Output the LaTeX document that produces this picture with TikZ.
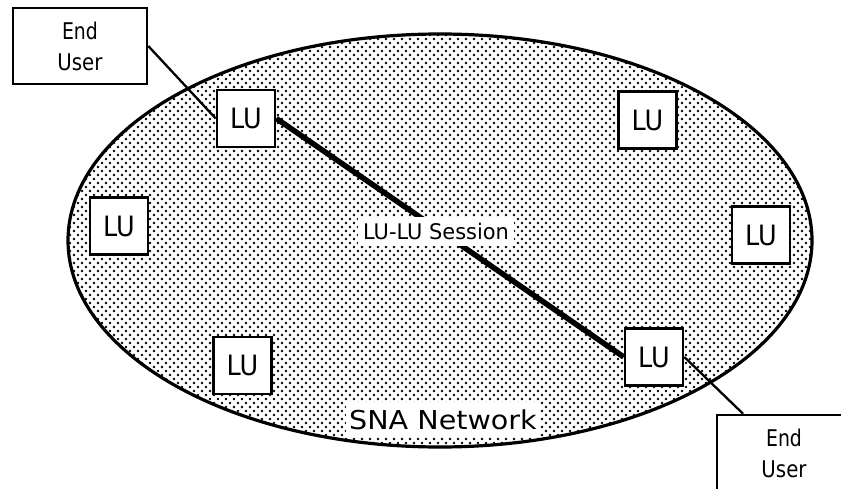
\documentclass[tikz,border=0pt]{standalone}
\usepackage{fontspec}
\usepackage{graphicx}
\newfontfamily\dv{DejaVu Sans}
\usetikzlibrary{calc,patterns}
\pgfdeclarepatternformonly{macdots}{\pgfpoint{-1pt}{-1pt}}{\pgfpoint{9pt}{9pt}}{\pgfpoint{8pt}{8pt}}{%
  \pgfpathcircle{\pgfpoint{2pt}{2pt}}{1.35pt}%
  \pgfpathcircle{\pgfpoint{6pt}{6pt}}{1.35pt}%
  \pgfusepath{fill}}
\newcommand\hsc[2]{\scalebox{#1}[1]{#2}}
\begin{document}
\begin{tikzpicture}[x=1pt,y=-1pt,
  lubox/.style={draw, line width=2.6pt, fill=white, minimum width=58pt, minimum height=57pt,
    inner sep=0pt, text height=20.4pt, text depth=0pt, font=\dv\fontsize{28}{28}\selectfont},
  userbox/.style={draw, line width=2.5pt, fill=white, minimum width=134pt, minimum height=76pt,
    inner sep=0pt, align=center, font=\dv\fontsize{23}{31}\selectfont},
  tag/.style={fill=white, inner sep=0pt, text depth=0pt},
  link/.style={line width=2.3pt},
  session/.style={line width=5.5pt},
  netline/.style={line width=3.2pt}]
\clip (0,0) rectangle (841,489);
\useasboundingbox (0,0) rectangle (841,489);
\fill[white] (0,0) rectangle (841,489);
% network ellipse
\path[fill=white] (440,240.5) ellipse [x radius=372, y radius=206.5];
\path[pattern=macdots] (440,240.5) ellipse [x radius=372, y radius=206.5];
\draw[netline] (440,240.5) ellipse [x radius=372, y radius=206.5];
% LU boxes
\node[lubox] (A) at (246,118.5) {\hsc{0.91}{LU}};
\node[lubox] (B) at (647.5,120) {\hsc{0.91}{LU}};
\node[lubox] (C) at (761,235) {\hsc{0.91}{LU}};
\node[lubox] (D) at (119,226) {\hsc{0.91}{LU}};
\node[lubox] (E) at (654,357) {\hsc{0.91}{LU}};
\node[lubox] (F) at (242.5,365.5) {\hsc{0.91}{LU}};
% end users
\node[userbox] (U1) at (80,46) {\hsc{0.82}{End}\\\hsc{0.86}{User}};
\node[userbox] (U2) at (784,453) {\hsc{0.82}{End}\\\hsc{0.86}{User}};
% connectors
\draw[session] (A.east) -- (E.west);
\draw[link] (U1.east) -- (A.west);
\draw[link] (E.east) -- ($(U2.north west)!0.2!(U2.north east)$);
% labels
\node[tag, minimum width=156pt, minimum height=29pt, text height=15.7pt,
  font=\dv\fontsize{21.5}{21.5}\selectfont] (S) at (436,232) {\hsc{0.973}{LU-LU Session}};
\node[tag, minimum width=194pt, minimum height=35pt, text height=19pt,
  font=\dv\fontsize{26}{26}\selectfont] (N) at (443,419.5) {\hsc{1.1}{SNA Network}};
\end{tikzpicture}
\end{document}
